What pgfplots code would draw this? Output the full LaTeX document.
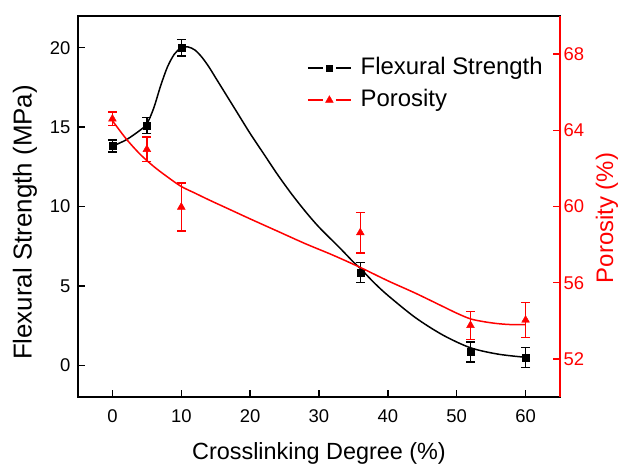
\documentclass[border=0pt]{standalone}
\usepackage{pgfplots}
\pgfplotsset{compat=1.18}
\usepackage{pgfplotstable}
\usepackage{fontspec}
\setmainfont{Liberation Sans}

\pgfplotstableread{
x y e
0 13.8 0.38
5 15.1 0.5
10 20.0 0.52
36 5.85 0.63
52 0.85 0.63
60 0.5 0.63
}\fsdata

\pgfplotstableread{
x y e
0 64.6 0.35
5 63.0 0.65
10 59.97 1.26
36 58.63 1.06
52 53.76 0.74
60 54.04 0.91
}\pordata

\pgfplotstableread{
x y
0 13.8
2 14.2
4 14.8
5 15.2
6 16.2
7 17.6
8 18.8
9 19.6
10 20.0
11 20.05
12 19.85
13 19.4
14 18.8
15 18.1
16 17.4
18 16.0
20 14.6
22 13.3
24 12.0
26 10.8
28 9.7
30 8.7
33 7.4
35 6.5
36 6.1
38 5.2
40 4.4
44 3.0
48 1.9
52 1.1
56 0.7
60 0.5
}\fscurve

\pgfplotstableread{
x y
0 64.5
2 63.55
4 62.75
6 62.1
8 61.55
10 61.05
12 60.7
14 60.35
17 59.85
20 59.35
24 58.7
28 58.05
32 57.45
36 56.8
40 56.1
44 55.45
48 54.75
50 54.4
52 54.1
54 53.95
56 53.85
58 53.8
60 53.8
}\porcurve

\begin{document}
\begin{tikzpicture}
\pgfplotsset{
  myaxis/.style={
    scale only axis, width=482bp, height=381bp,
    xmin=-5, xmax=65,
    tick align=inside, major tick length=7bp,
    every tick/.style={line width=1.3bp},
    axis line style={line width=1.5bp},
    tick label style={font=\fontsize{18.5}{20}\selectfont},
    label style={font=\fontsize{23.5}{27}\selectfont},
    /pgf/number format/assume math mode=true,
    error bars/error bar style={line width=1.5bp},
    error bars/error mark options={rotate=90, line width=1.5bp, mark size=4.5bp},
  }
}
\begin{axis}[myaxis,
  ymin=-2, ymax=22,
  xtick={0,10,...,60}, ytick={0,5,...,20},
  xtick pos=lower, ytick pos=left,
  xticklabel style={yshift=-9bp},
  yticklabel style={xshift=-4bp},
  xlabel={Crosslinking Degree (\%)},
  ylabel={Flexural Strength (MPa)},
  xlabel style={at={(axis description cs:0.5,-0.149)}, anchor=center},
  ylabel style={at={(axis description cs:-0.110,0.458)}, anchor=center, font=\fontsize{26}{30}\selectfont},
]
\addplot[black, line width=1.5bp, smooth, forget plot] table {\fscurve};
\addplot[black, only marks, mark=square*, mark size=3.5bp,
  error bars/.cd, y dir=both, y explicit] table[x=x, y=y, y error=e] {\fsdata};
\end{axis}

\begin{axis}[myaxis,
  ymin=50, ymax=70,
  axis x line=none, axis y line*=right,
  ytick={52,56,...,68},
  y axis line style={red, line width=1.5bp},
  ytick style={red},
  yticklabel style={red},
  ylabel={Porosity (\%)},
  ylabel style={red, at={(axis description cs:1.0975,0.47)}, anchor=center, font=\fontsize{24}{28}\selectfont},
  legend style={draw=none, fill=none, inner sep=0pt,
    at={(axis description cs:0.475,0.895)}, anchor=north west,
    font=\fontsize{24}{28}\selectfont,
    nodes={inner sep=0pt, text depth=6bp, text height=18bp},
    row sep=8bp, column sep=9bp},
  legend cell align=left,
  legend image code/.code={
    \draw[#1, mark=none, line width=1.5bp] (0bp,0bp) -- (15bp,0bp);
    \draw[#1, mark=none, line width=1.5bp] (28bp,0bp) -- (43bp,0bp);
    \draw[#1] plot coordinates {(21.5bp,0bp)};
  },
]
\addlegendimage{black, mark=square*, mark size=3bp}
\addlegendentry{Flexural Strength}
\addplot[red, line width=1.5bp, smooth, forget plot] table {\porcurve};
\addplot[red, only marks, mark=triangle*, mark size=4.5bp,
  error bars/.cd, y dir=both, y explicit] table[x=x, y=y, y error=e] {\pordata};
\addlegendentry{Porosity}
\end{axis}
\pgfresetboundingbox
\path (-78bp,-69bp) rectangle (540bp,397bp);
\end{tikzpicture}
\end{document}
